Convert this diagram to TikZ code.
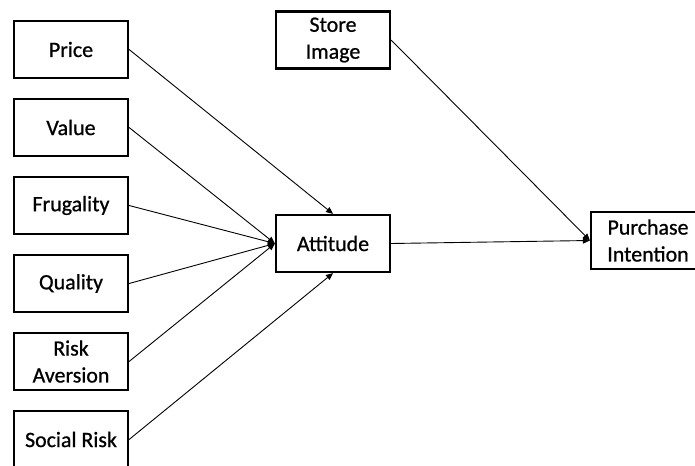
\documentclass[tikz,border=0pt]{standalone}
\usepackage{fontspec}
\setmainfont{Carlito}[FakeBold=0.8,AutoFakeBold=0.8]
\usetikzlibrary{arrows.meta}
\tikzset{
  factor/.style={draw,line width=2.2bp,minimum width=114bp,minimum height=57bp,
    align=center,inner sep=1bp,font=\fontsize{22}{27}\selectfont\bfseries},
  link/.style={line width=0.9bp,-{Triangle[length=7bp,width=6bp]}}
}
\begin{document}
\begin{tikzpicture}[x=1bp,y=-1bp]
    \useasboundingbox (0,0) rectangle (695,466);
    \foreach \name/\txt [count=\i from 0] in {price/Price,value/Value,frug/Frugality,
        qual/Quality,risk/Risk\\Aversion,social/Social Risk}
      \node[factor] (\name) at (71,49.5+78*\i) {\txt};
    \node[factor] (store) at (333,40) {Store\\Image};
    \node[factor] (att) at (333,243.5) {Attitude};
    \node[factor] (pi) at (648,240.5) {Purchase\\Intention};
    \draw[link] (price.east) -- (att.north);
    \foreach \name in {value,frug,qual,risk}
      \draw[link] (\name.east) -- (att.west);
    \draw[link] (social.east) -- (att.south);
    \draw[link] (att.east) -- (pi.west);
    \draw[link] (store.east) -- (pi.west);
  \end{tikzpicture}
\end{document}
